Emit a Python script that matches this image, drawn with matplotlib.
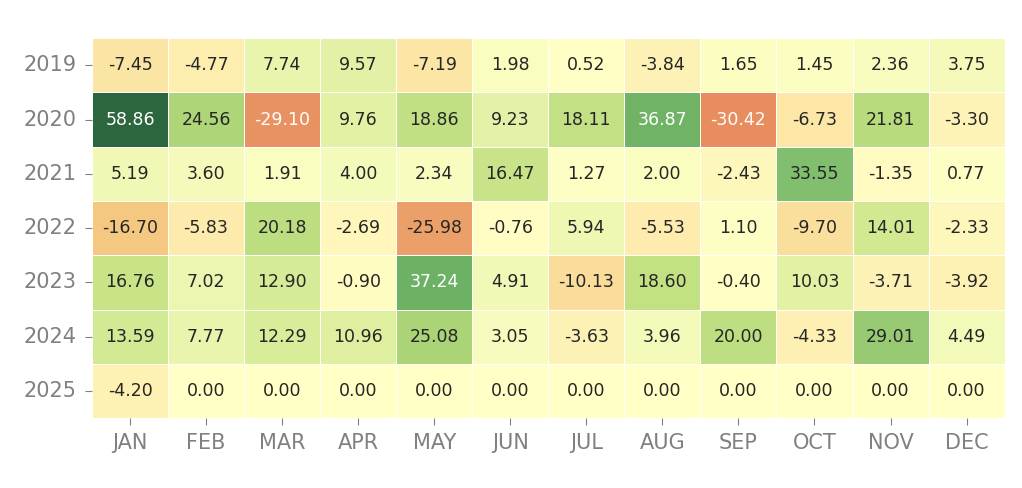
import numpy as np
import pandas as pd
import seaborn as sns
import matplotlib
matplotlib.use("Agg")
from matplotlib import pyplot as plt
from matplotlib.colors import LinearSegmentedColormap

plt.rcParams["font.family"] = ["DejaVu Sans"]

years = [2019, 2020, 2021, 2022, 2023, 2024, 2025]
months = ["JAN", "FEB", "MAR", "APR", "MAY", "JUN",
          "JUL", "AUG", "SEP", "OCT", "NOV", "DEC"]

r2019 = [-7.45, -4.77, 7.74, 9.57, -7.19, 1.98, 0.52, -3.84, 1.65, 1.45, 2.36, 3.75]
r2020 = [58.86, 24.56, -29.10, 9.76, 18.86, 9.23, 18.11, 36.87, -30.42, -6.73, 21.81, -3.30]
r2021 = [5.19, 3.60, 1.91, 4.00, 2.34, 16.47, 1.27, 2.00, -2.43, 33.55, -1.35, 0.77]
r2022 = [-16.70, -5.83, 20.18, -2.69, -25.98, -0.76, 5.94, -5.53, 1.10, -9.70, 14.01, -2.33]
r2023 = [16.76, 7.02, 12.90, -0.90, 37.24, 4.91, -10.13, 18.60, -0.40, 10.03, -3.71, -3.92]
r2024 = [13.59, 7.77, 12.29, 10.96, 25.08, 3.05, -3.63, 3.96, 20.00, -4.33, 29.01, 4.49]
r2025 = [-4.20, 0.00, 0.00, 0.00, 0.00, 0.00, 0.00, 0.00, 0.00, 0.00, 0.00, 0.00]

df = pd.DataFrame([r2019, r2020, r2021, r2022, r2023, r2024, r2025],
                  index=years, columns=months)

# muted red-yellow-green palette, anchored on return values
vmin, vmax = df.values.min(), df.values.max()
anchors = [(-30.42, "#e88e5e"), (-16.70, "#f5c882"), (-6.73, "#fce8a8"),
           (0.0, "#ffffc6"), (7.02, "#ecf6b0"), (16.76, "#c8e487"),
           (24.56, "#aed678"), (33.55, "#82be6e"), (37.24, "#6eb264"),
           (58.86, "#2c663e")]
cmap = LinearSegmentedColormap.from_list(
    "muted_rdylgn", [((v - vmin) / (vmax - vmin), c) for v, c in anchors])

fig = plt.figure(figsize=(10.22, 4.88), dpi=100)
ax = fig.add_axes([0.090, 0.143, 0.893, 0.779])

sns.heatmap(df, ax=ax, cmap=cmap, vmin=vmin, vmax=vmax, annot=True, fmt=".2f",
            linewidths=0.6, linecolor="white", cbar=False,
            annot_kws={"size": 12.5})

ax.tick_params(axis="both", colors="gray", labelsize=15, length=5, pad=6)
ax.tick_params(axis="y", rotation=0)
ax.tick_params(axis="x", rotation=0)
ax.set_xlabel("")
ax.set_ylabel("")

fig.savefig("out.png", dpi=100)
